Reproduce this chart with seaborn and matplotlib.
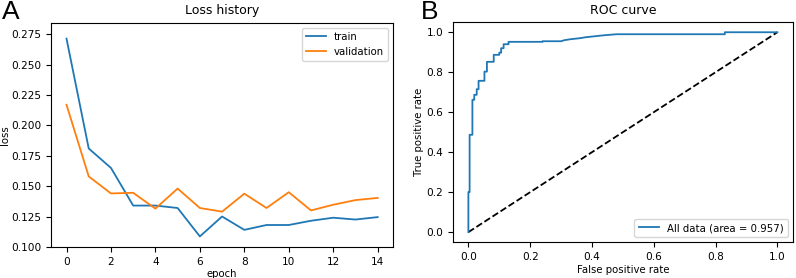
import numpy as np
import pandas as pd
import matplotlib
matplotlib.use("Agg")
import matplotlib.pyplot as plt
from matplotlib.ticker import MultipleLocator, FormatStrFormatter
import seaborn as sns

# %% Data
epochs = list(range(15))
train_loss = [0.2715, 0.181, 0.165, 0.134, 0.134, 0.132, 0.1086, 0.125,
              0.114, 0.118, 0.118, 0.1215, 0.124, 0.1225, 0.1245]
val_loss = [0.217, 0.158, 0.144, 0.1445, 0.1315, 0.148, 0.132, 0.129,
            0.1438, 0.132, 0.145, 0.130, 0.1347, 0.1385, 0.1403]

# ROC vertices (fpr, tpr), staircase corners
roc_fpr = [0.0, 0.0, 0.004, 0.004, 0.013, 0.013, 0.019, 0.019, 0.027, 0.027,
           0.033, 0.033, 0.052, 0.052, 0.06, 0.06, 0.082, 0.082, 0.10, 0.10,
           0.106, 0.106, 0.114, 0.114, 0.13, 0.13, 0.24, 0.24, 0.30, 0.31,
           0.33, 0.36, 0.38, 0.41, 0.44, 0.48, 0.83, 0.83, 1.0]
roc_tpr = [0.0, 0.2, 0.2, 0.487, 0.487, 0.662, 0.662, 0.687, 0.687, 0.715,
           0.715, 0.757, 0.757, 0.803, 0.803, 0.852, 0.852, 0.887, 0.887, 0.898,
           0.898, 0.92, 0.92, 0.94, 0.94, 0.952, 0.952, 0.955, 0.955, 0.96,
           0.965, 0.97, 0.975, 0.98, 0.985, 0.99, 0.99, 1.0, 1.0]
roc_auc = 0.957

# %% Tables for seaborn
loss_df = pd.DataFrame({
    "epoch": epochs * 2,
    "loss": train_loss + val_loss,
    "set": ["train"] * len(epochs) + ["validation"] * len(epochs),
})
roc_df = pd.DataFrame({"fpr": roc_fpr, "tpr": roc_tpr})

plt.rcParams["font.size"] = 7.3
plt.rcParams["xtick.labelsize"] = 7.6
plt.rcParams["ytick.labelsize"] = 7.6
plt.rcParams["axes.labelpad"] = 2
fig = plt.figure(figsize=(7.96, 2.78), dpi=100)
ax_a = fig.add_axes([0.064, 0.112, 0.430, 0.806])
ax_b = fig.add_axes([0.569, 0.129, 0.427, 0.791])

sns.lineplot(data=loss_df, x="epoch", y="loss", hue="set",
             palette=["#1f77b4", "#ff7f0e"], linewidth=1.3, ax=ax_a)
ax_a.set_title("Loss history", fontsize=9)
ax_a.set_xticks(range(0, 15, 2))
ax_a.set_ylim(0.100, 0.2845)
ax_a.yaxis.set_major_locator(MultipleLocator(0.025))
ax_a.yaxis.set_major_formatter(FormatStrFormatter("%.3f"))
ax_a.set_ylabel("loss", labelpad=1)
ax_a.legend(loc="upper right", fontsize=7.3)

ax_b.plot([0, 1], [0, 1], "k--", linewidth=1.3)
sns.lineplot(data=roc_df, x="fpr", y="tpr", sort=False, estimator=None,
             color="#1f77b4", linewidth=1.3, ax=ax_b,
             label=f"All data (area = {roc_auc:.3f})")
ax_b.set_xlabel("False positive rate")
ax_b.set_ylabel("True positive rate")
ax_b.set_title("ROC curve", fontsize=9)
ax_b.legend(loc="lower right", fontsize=7.3)

fig.text(0.002, 1.0, "A", fontsize=19, va="top", family="Liberation Sans")
fig.text(0.529, 1.0, "B", fontsize=19, va="top", family="Liberation Sans")

fig.savefig("out.png", dpi=100)
